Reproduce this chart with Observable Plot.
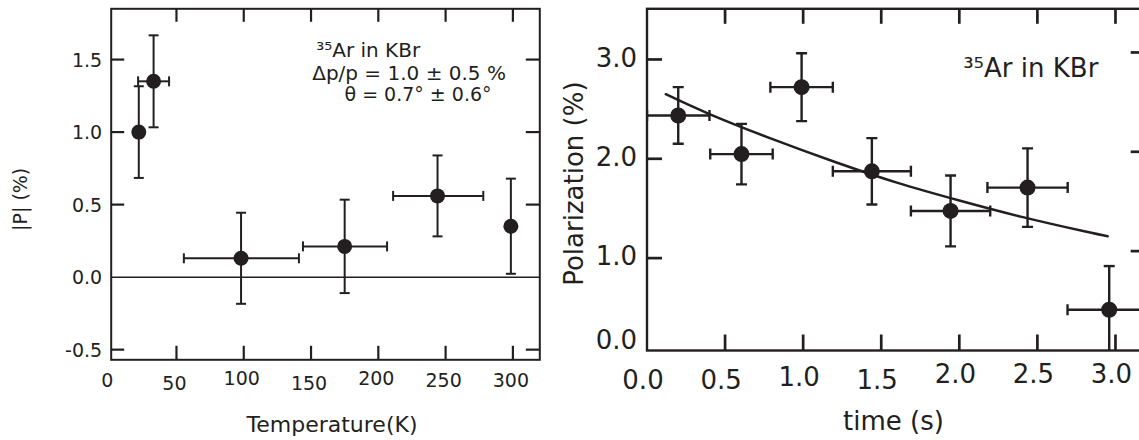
<!DOCTYPE html>
<html><head><meta charset="utf-8">
<script src="https://cdn.jsdelivr.net/npm/d3@7"></script>
<script src="https://cdn.jsdelivr.net/npm/@observablehq/plot@0.6"></script>
<style>
html,body{margin:0;padding:0;background:#fff;overflow:hidden;width:1139px;height:440px}
#wrap{display:flex;width:1160px}
#left{width:560px;flex:0 0 560px}
#right{width:600px;flex:0 0 600px}
#wrap svg{max-width:none !important;display:block}
</style></head><body><div id="wrap"><div id="left"></div><div id="right"></div></div>
<script>
const ink = "#231f20";
const font = "DejaVu Sans";

// ---- Left panel: |P| vs temperature ----
const temperature     = [22, 33, 98, 175, 244, 298.5];
const temperatureLow  = [null, 21.5, 55.5, 144, 211, null];
const temperatureHigh = [null, 44.5, 141, 206.5, 278, null];
const absP            = [1.0, 1.35, 0.13, 0.212, 0.56, 0.351];
const absPErr         = [0.316, 0.317, 0.314, 0.322, 0.279, 0.328];
const tempTicks = [0, 50, 100, 150, 200, 250, 300];
const absPTicks = [-0.5, 0.0, 0.5, 1.0, 1.5];
const leftNotes = ["\u00B3\u2075Ar in KBr", "\u0394p/p = 1.0 \u00B1 0.5 %", "\u03B8 = 0.7\u00B0 \u00B1 0.6\u00B0"];
const leftXLabel = "Temperature(K)";
const leftYLabel = "|P| (%)";

// ---- Right panel: polarization vs time ----
const time            = [0.2, 0.605, 0.99, 1.44, 1.944, 2.437, 2.96];
const timeErr         = [0.2, 0.2, 0.2, 0.25, 0.254, 0.257, 0.267];
const polarization    = [2.436, 2.047, 2.721, 1.874, 1.475, 1.71, 0.48];
const polarizationErr = [0.285, 0.305, 0.342, 0.334, 0.357, 0.395, 0.44];
const fitTime         = [0.12, 0.4, 0.8, 1.2, 1.6, 2.0, 2.4, 2.8, 2.95];
const fitPolarization = [2.65, 2.45, 2.2, 1.97, 1.76, 1.58, 1.415, 1.27, 1.22];
const timeTicks = [0.0, 0.5, 1.0, 1.5, 2.0, 2.5, 3.0];
const polTicks  = [0.0, 1.0, 2.0, 3.0];
const rightNote = "\u00B3\u2075Ar in KBr";
const rightXLabel = "time (s)";
const rightYLabel = "Polarization (%)";

const hCap = h => ({draw(ctx){ ctx.moveTo(-h, 0); ctx.lineTo(h, 0); }});
const vCap = h => ({draw(ctx){ ctx.moveTo(0, -h); ctx.lineTo(0, h); }});

// inward tick marks on all four sides; length given in pixels, converted through the scale domains
function inwardTicks(cfg, xt, yt, len, w, rightDy = 0) {
  const [x0, x1] = cfg.x.domain, [y0, y1] = cfg.y.domain;
  const kx = (x1 - x0) / (cfg.width - cfg.marginLeft - cfg.marginRight);
  const ky = (y1 - y0) / (cfg.height - cfg.marginTop - cfg.marginBottom);
  const o = {stroke: ink, strokeWidth: w};
  return [
    Plot.ruleX(xt, {x: d => d, y1: y0, y2: y0 + len * ky, ...o}),
    Plot.ruleX(xt, {x: d => d, y1: y1, y2: y1 - len * ky, ...o}),
    Plot.ruleY(yt, {y: d => d, x1: x0, x2: x0 + len * kx, ...o}),
    Plot.ruleY(yt, {y: d => d, x1: x1, x2: x1 - len * kx, dy: rightDy, ...o})
  ];
}

// ---------- LEFT ----------
const L = temperature.map((t, i) => ({t, lo: temperatureLow[i], hi: temperatureHigh[i], p: absP[i], e: absPErr[i]}));
const LX = L.filter(d => d.lo != null);
const lblL = {tickSize: 0, fill: ink, stroke: "none", label: null, fontSize: 19, fontFamily: font};
const cfgL = {
  width: 560, height: 440,
  marginLeft: 110.7, marginRight: 20.7, marginTop: 8.3, marginBottom: 80.7,
  x: {domain: [1.5, 320]},
  y: {domain: [-0.57, 1.85]}
};

const left = Plot.plot({
  ...cfgL,
  style: {fontFamily: font, fontSize: "19px", color: ink, background: "white"},
  marks: [
    Plot.ruleY([0], {stroke: ink, strokeWidth: 1.5}),
    Plot.ruleX(L, {x: "t", y1: d => d.p - d.e, y2: d => d.p + d.e, stroke: ink, strokeWidth: 2}),
    Plot.ruleY(LX, {y: "p", x1: "lo", x2: "hi", stroke: ink, strokeWidth: 2}),
    Plot.dot(L, {x: "t", y: d => d.p + d.e, symbol: hCap(5), stroke: ink, strokeWidth: 2, fill: "none"}),
    Plot.dot(L, {x: "t", y: d => d.p - d.e, symbol: hCap(5), stroke: ink, strokeWidth: 2, fill: "none"}),
    Plot.dot(LX, {x: "lo", y: "p", symbol: vCap(5), stroke: ink, strokeWidth: 2, fill: "none"}),
    Plot.dot(LX, {x: "hi", y: "p", symbol: vCap(5), stroke: ink, strokeWidth: 2, fill: "none"}),
    Plot.dot(L, {x: "t", y: "p", r: 7.5, fill: ink, stroke: "none"}),
    ...inwardTicks(cfgL, tempTicks.slice(1), absPTicks.filter(d => d !== 0), 13.5, 2.2),
    Plot.frame({stroke: ink, strokeWidth: 2}),
    Plot.axisY(absPTicks, {anchor: "left", ...lblL, tickPadding: 9, dy: 1, tickFormat: d => d.toFixed(1)}),
    Plot.axisX([100, 200], {anchor: "bottom", ...lblL, tickPadding: 12, dx: -2, tickFormat: d => String(d)}),
    Plot.axisX([0, 250, 300], {anchor: "bottom", ...lblL, tickPadding: 14, dx: -2, tickFormat: d => String(d)}),
    Plot.axisX([50, 150], {anchor: "bottom", ...lblL, tickPadding: 16.5, dx: -2, tickFormat: d => String(d)}),
    Plot.text([leftYLabel], {text: d => d, frameAnchor: "left", textAnchor: "middle", rotate: -90, dx: -90, dy: 15, lineAnchor: "middle", fontSize: 19, fill: ink}),
    Plot.text([leftXLabel], {text: d => d, frameAnchor: "bottom", textAnchor: "middle", dx: 6.5, dy: 65, lineAnchor: "middle", fontSize: 22, fill: ink}),
    Plot.text([leftNotes[0]], {text: d => d, frameAnchor: "top-left", textAnchor: "start", dx: 205, dy: 42, lineAnchor: "middle", fontSize: 20, fill: ink}),
    Plot.text([leftNotes[1]], {text: d => d, frameAnchor: "top-left", textAnchor: "start", dx: 201, dy: 65, lineAnchor: "middle", fontSize: 20, fill: ink}),
    Plot.text([leftNotes[2]], {text: d => d, frameAnchor: "top-left", textAnchor: "middle", dx: 306.8, dy: 86.5, lineAnchor: "middle", fontSize: 19, fill: ink})
  ]
});
document.getElementById("left").append(left);

// ---------- RIGHT ----------
const R = time.map((t, i) => ({t, te: timeErr[i], p: polarization[i], e: polarizationErr[i]}));
const F = fitTime.map((t, i) => ({t, p: fitPolarization[i]}));
const lblR = {tickSize: 0, fill: ink, stroke: "none", label: null, fontSize: 26, fontFamily: font};
const fmt1 = d => d.toFixed(1);
const sw = 2.4;
const cfgR = {
  width: 600, height: 440,
  marginLeft: 86.5, marginRight: 13.8, marginTop: 8.3, marginBottom: 90,
  x: {domain: [0, 3.2]},
  y: {domain: [0.07, 3.51]}
};

const right = Plot.plot({
  ...cfgR,
  style: {fontFamily: font, fontSize: "26px", color: ink, background: "white"},
  marks: [
    Plot.line(F, {x: "t", y: "p", curve: "natural", stroke: ink, strokeWidth: 2.5}),
    Plot.ruleX(R, {x: "t", y1: d => d.p - d.e, y2: d => d.p + d.e, stroke: ink, strokeWidth: sw, clip: true}),
    Plot.ruleY(R, {y: "p", x1: d => d.t - d.te, x2: d => d.t + d.te, stroke: ink, strokeWidth: sw, clip: true}),
    Plot.dot(R, {x: "t", y: d => d.p + d.e, symbol: hCap(5.5), stroke: ink, strokeWidth: sw, fill: "none", clip: true}),
    Plot.dot(R, {x: "t", y: d => d.p - d.e, symbol: hCap(5.5), stroke: ink, strokeWidth: sw, fill: "none", clip: true}),
    Plot.dot(R, {x: d => d.t - d.te, y: "p", symbol: vCap(5.5), stroke: ink, strokeWidth: sw, fill: "none", clip: true}),
    Plot.dot(R, {x: d => d.t + d.te, y: "p", symbol: vCap(5.5), stroke: ink, strokeWidth: sw, fill: "none", clip: true}),
    Plot.dot(R, {x: "t", y: "p", r: 8, fill: ink, stroke: "none"}),
    ...inwardTicks(cfgR, timeTicks.slice(1), polTicks.slice(1), 15.5, 2.7, -7),
    Plot.frame({stroke: ink, strokeWidth: 2.4}),
    Plot.axisY(polTicks.slice(1), {anchor: "left", ...lblR, tickPadding: 10, dy: -1, tickFormat: fmt1}),
    Plot.axisY(polTicks.slice(0, 1), {anchor: "left", ...lblR, tickPadding: 10, dy: -17, tickFormat: fmt1}),
    Plot.axisX([0, 0.5, 1.5], {anchor: "bottom", ...lblR, tickPadding: 20.5, dx: -4, tickFormat: fmt1}),
    Plot.axisX([1.0], {anchor: "bottom", ...lblR, tickPadding: 17, dx: -4, tickFormat: fmt1}),
    Plot.axisX([2.0, 2.5, 3.0], {anchor: "bottom", ...lblR, tickPadding: 14.5, dx: -4, tickFormat: fmt1}),
    Plot.text([rightYLabel], {text: d => d, frameAnchor: "left", textAnchor: "middle", rotate: -90, dx: -72.5, dy: 4, lineAnchor: "middle", fontSize: 26, fill: ink}),
    Plot.text([rightXLabel], {text: d => d, frameAnchor: "bottom", textAnchor: "middle", dx: -3.4, dy: 71, lineAnchor: "middle", fontSize: 26, fill: ink}),
    Plot.text([rightNote], {text: d => d, frameAnchor: "top-left", textAnchor: "start", dx: 316.2, dy: 60.1, lineAnchor: "middle", fontSize: 26, fill: ink})
  ]
});
document.getElementById("right").append(right);
</script></body></html>
